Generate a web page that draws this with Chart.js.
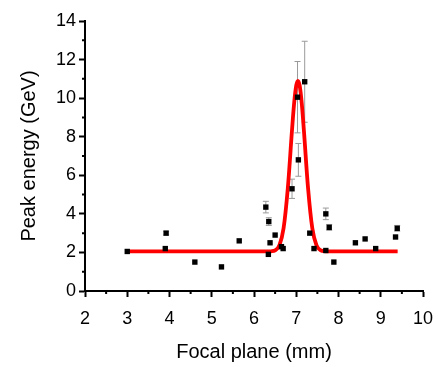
<!DOCTYPE html>
<html>
<head>
<meta charset="utf-8">
<script src="https://cdn.jsdelivr.net/npm/chart.js@4"></script>
<style>
  body { margin: 0; background: #fff; }
  canvas { display: block; }
</style>
</head>
<body>
<canvas id="chart" width="438" height="367"></canvas>
<script>
// measured points
const focalPlane = [3.0, 3.92, 3.9, 4.6, 5.23, 5.65, 6.28, 6.35, 6.34, 6.38, 6.5, 6.65, 6.69, 6.9, 7.05, 7.03, 7.2, 7.32, 7.42, 7.7, 7.78, 7.7, 7.89, 8.4, 8.63, 8.88, 9.35, 9.39];
const peakEnergy = [2.05, 3.0, 2.2, 1.5, 1.25, 2.6, 4.35, 3.6, 1.9, 2.5, 2.9, 2.3, 2.2, 5.3, 6.8, 10.05, 10.85, 3.0, 2.2, 4.0, 3.3, 2.1, 1.5, 2.5, 2.7, 2.2, 2.8, 3.25];
const energyErr = [0, 0.1, 0, 0, 0, 0, 0.3, 0.2, 0, 0, 0, 0, 0, 0.5, 0.85, 1.85, 2.1, 0, 0, 0.3, 0.15, 0, 0, 0, 0, 0, 0, 0.15];

// fit curve
const fitX = [3.0, 6.3, 6.4, 6.5, 6.6, 6.7, 6.8, 6.9, 6.95, 7.0, 7.04, 7.08, 7.13, 7.18, 7.28, 7.38, 7.48, 7.58, 7.68, 7.8, 9.4];
const fitY = [2.05, 2.05, 2.06, 2.11, 2.36, 3.25, 5.32, 8.35, 9.74, 10.66, 10.9, 10.66, 9.74, 8.35, 5.32, 3.25, 2.36, 2.11, 2.06, 2.05, 2.05];

const xTicks = [2, 3, 4, 5, 6, 7, 8, 9, 10];
const yTicks = [0, 2, 4, 6, 8, 10, 12, 14];

const FONT = 'Liberation Sans, Arial, sans-serif';

const errorBars = {
  id: 'errorBars',
  beforeDatasetsDraw(chart) {
    const ctx = chart.ctx;
    const xs = chart.scales.x, ys = chart.scales.y;
    ctx.save();
    ctx.strokeStyle = '#9a9a9a';
    ctx.lineWidth = 1;
    focalPlane.forEach((fx, i) => {
      const e = energyErr[i];
      if (!e) return;
      const px = xs.getPixelForValue(fx);
      const top = ys.getPixelForValue(peakEnergy[i] + e);
      const bot = ys.getPixelForValue(peakEnergy[i] - e);
      ctx.beginPath();
      ctx.moveTo(px, top); ctx.lineTo(px, bot);
      ctx.moveTo(px - 3, top); ctx.lineTo(px + 3, top);
      ctx.moveTo(px - 3, bot); ctx.lineTo(px + 3, bot);
      ctx.stroke();
    });
    ctx.restore();
  }
};

const minorTicks = {
  id: 'minorTicks',
  afterDraw(chart) {
    const ctx = chart.ctx;
    const xs = chart.scales.x, ys = chart.scales.y;
    ctx.save();
    ctx.strokeStyle = '#000';
    ctx.lineWidth = 2;
    ctx.beginPath();
    for (let i = 0; i < xTicks.length - 1; i++) {
      const px = xs.getPixelForValue((xTicks[i] + xTicks[i + 1]) / 2);
      ctx.moveTo(px, xs.top); ctx.lineTo(px, xs.top + 3);
    }
    for (let i = 0; i < yTicks.length - 1; i++) {
      const py = ys.getPixelForValue((yTicks[i] + yTicks[i + 1]) / 2);
      ctx.moveTo(ys.right, py); ctx.lineTo(ys.right - 3, py);
    }
    ctx.stroke();
    ctx.restore();
  }
};

new Chart(document.getElementById('chart').getContext('2d'), {
  type: 'scatter',
  data: {
    datasets: [
      {
        data: focalPlane.map((x, i) => ({ x, y: peakEnergy[i] })),
        pointStyle: 'rect',
        pointRadius: 3.8,
        backgroundColor: '#000',
        borderColor: '#000',
        borderWidth: 0
      },
      {
        type: 'line',
        data: fitX.map((x, i) => ({ x, y: fitY[i] })),
        borderColor: '#ff0000',
        borderWidth: 3.8,
        pointRadius: 0,
        cubicInterpolationMode: 'monotone',
        fill: false
      }
    ]
  },
  options: {
    responsive: false,
    animation: false,
    layout: { padding: { top: 21, right: 15, left: 0, bottom: 0 } },
    plugins: { legend: { display: false }, tooltip: { enabled: false } },
    scales: {
      x: {
        type: 'linear',
        min: 2, max: 10,
        afterFit(s) { s.height = 76; s.paddingLeft = 0; s.paddingRight = 0; },
        afterBuildTicks(s) { s.ticks = xTicks.map(v => ({ value: v })); },
        border: { color: '#000', width: 2 },
        grid: { drawOnChartArea: false, drawTicks: true, tickLength: 6, tickColor: '#000', tickWidth: 2 },
        ticks: { color: '#000', font: { family: FONT, size: 18 }, padding: 11, maxRotation: 0 },
        title: { display: true, text: 'Focal plane (mm)', color: '#000', font: { family: FONT, size: 20 }, padding: { top: 0, bottom: 3 } }
      },
      y: {
        type: 'linear',
        min: 0, max: 14,
        afterFit(s) { s.width = 85; s.paddingTop = 0; s.paddingBottom = 0; },
        afterBuildTicks(s) { s.ticks = yTicks.map(v => ({ value: v })); },
        border: { color: '#000', width: 2 },
        grid: { drawOnChartArea: false, drawTicks: true, tickLength: 6, tickColor: '#000', tickWidth: 2 },
        ticks: { color: '#000', font: { family: FONT, size: 18 }, padding: 3 },
        title: { display: true, text: 'Peak energy (GeV)', color: '#000', font: { family: FONT, size: 20 }, padding: { top: 17, bottom: 0 } }
      }
    }
  },
  plugins: [errorBars, minorTicks]
});
</script>
</body>
</html>
